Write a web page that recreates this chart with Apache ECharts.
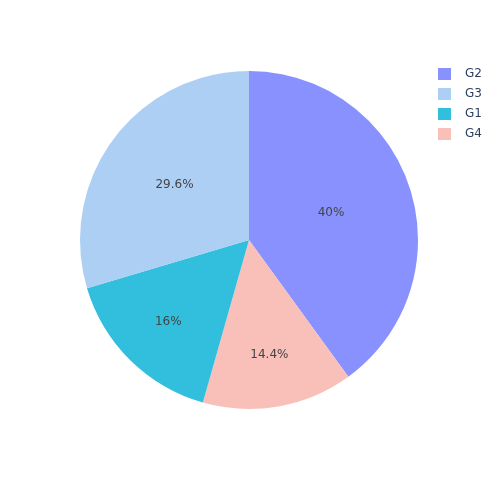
<!DOCTYPE html>
<html><head><meta charset="utf-8">
<script src="https://cdn.jsdelivr.net/npm/echarts@6/dist/echarts.min.js"></script>
<style>html,body{margin:0;padding:0;background:#fff}#c{width:500px;height:500px}</style>
</head><body><div id="c"></div>
<script>
const categories = ['G2', 'G4', 'G1', 'G3'];
const values = [25, 9, 10, 18.5];
const colors = ['#8891fe', '#f8c0b9', '#31bfdd', '#aecff4'];
const legendOrder = ['G2', 'G3', 'G1', 'G4'];
// radial placement of each inside label, as fraction of radius
const labelRadialFactor = [0.51, 0.69, 0.68, 0.55];

const CX = 249, CY = 240, R = 169;
const chart = echarts.init(document.getElementById('c'));
chart.setOption({
  animation: false,
  legend: {
    orient: 'vertical', left: 438, top: 68, padding: 0,
    itemWidth: 13, itemHeight: 12, itemGap: 8,
    icon: 'rect',
    data: legendOrder,
    textStyle: { color: '#2a3f5f', fontFamily: 'DejaVu Sans', fontSize: 12, padding: [0, 0, 0, 9] }
  },
  series: [{
    type: 'pie',
    center: [CX, CY],
    radius: [0, R],
    startAngle: 90,
    clockwise: true,
    data: categories.map((n, i) => ({ name: n, value: values[i], itemStyle: { color: colors[i] } })),
    label: {
      position: 'inside',
      formatter: p => (+p.percent.toFixed(1)) + '%',
      color: '#444',
      fontFamily: 'DejaVu Sans',
      fontSize: 12
    },
    labelLayout: function (params) {
      const r = params.labelRect;
      const lx = r.x + r.width / 2, ly = r.y + r.height / 2;
      const dx = lx - CX, dy = ly - CY;
      const d = Math.sqrt(dx * dx + dy * dy) || 1;
      const f = labelRadialFactor[params.dataIndex] * R / d;
      return { x: CX + dx * f, y: CY + dy * f, align: 'center', verticalAlign: 'middle' };
    },
    labelLine: { show: false },
    emphasis: { disabled: true }
  }]
});
</script></body></html>
